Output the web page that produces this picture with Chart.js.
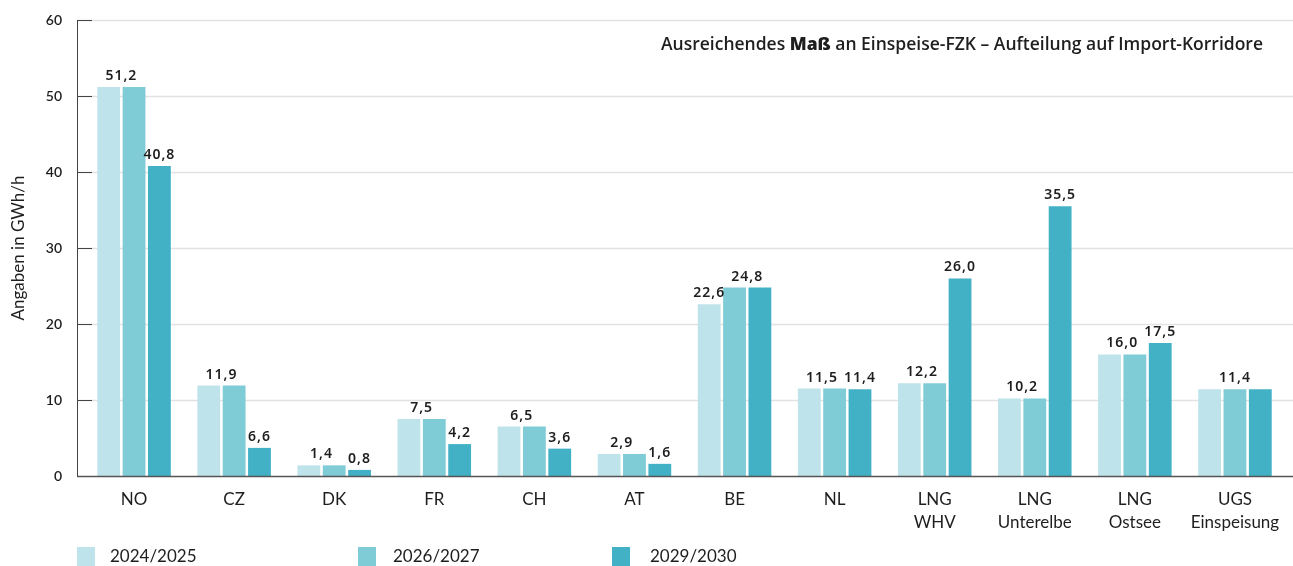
<!DOCTYPE html>
<html>
<head>
<meta charset="utf-8">
<script src="https://cdn.jsdelivr.net/npm/chart.js@4"></script>
<style>
html, body { margin: 0; padding: 0; background: #fff; }
#wrap { width: 1293px; height: 566px; }
</style>
</head>
<body>
<div id="wrap"><canvas id="chart"></canvas></div>
<script>
var categories = ["NO", "CZ", "DK", "FR", "CH", "AT", "BE", "NL", ["LNG", "WHV"], ["LNG", "Unterelbe"], ["LNG", "Ostsee"], ["UGS", "Einspeisung"]];
var seriesNames = ["2024/2025", "2026/2027", "2029/2030"];
var values2024 = [51.2, 11.9, 1.4, 7.5, 6.5, 2.9, 22.6, 11.5, 12.2, 10.2, 16.0, 11.4];
var values2026 = [51.2, 11.9, 1.4, 7.5, 6.5, 2.9, 24.8, 11.5, 12.2, 10.2, 16.0, 11.4];
var values2029 = [40.8, 3.7, 0.8, 4.2, 3.6, 1.6, 24.8, 11.4, 26.0, 35.5, 17.5, 11.4];
var yTicks = [0, 10, 20, 30, 40, 50, 60];
// value labels per category: [text, first bar, last bar]
var valueLabels = [
	[["51,2", 0, 1], ["40,8", 2, 2]],
	[["11,9", 0, 1], ["6,6", 2, 2]],
	[["1,4", 0, 1], ["0,8", 2, 2]],
	[["7,5", 0, 1], ["4,2", 2, 2]],
	[["6,5", 0, 1], ["3,6", 2, 2]],
	[["2,9", 0, 1], ["1,6", 2, 2]],
	[["22,6", 0, 0], ["24,8", 1, 2]],
	[["11,5", 0, 1], ["11,4", 2, 2]],
	[["12,2", 0, 1], ["26,0", 2, 2]],
	[["10,2", 0, 1], ["35,5", 2, 2]],
	[["16,0", 0, 1], ["17,5", 2, 2]],
	[["11,4", 0, 2]]
];
var titleParts = [["Ausreichendes ", "600"], ["Maß", "800"], [" an Einspeise-FZK – Aufteilung auf Import-Korridore", "600"]];

var colors = ["#BFE3EA", "#7FCBD6", "#42B1C6"];
var textColor = "#1e1e1e";
var fontFamily = "Lato, 'Open Sans', sans-serif";
var titleFont = "'Open Sans', sans-serif";

var decorPlugin = {
	id: "decor",
	beforeDatasetsDraw: function (chart) {
		var ctx = chart.ctx;
		var area = chart.chartArea;
		var y = chart.scales.y;
		var axisX = area.left - 7;
		ctx.save();
		yTicks.forEach(function (t) {
			var py = Math.round(y.getPixelForValue(t)) + 0.5;
			if (t > 0) {
				ctx.strokeStyle = "#e2e2e2";
				ctx.lineWidth = 1.5;
				ctx.beginPath();
				ctx.moveTo(axisX, py);
				ctx.lineTo(chart.width, py);
				ctx.stroke();
			}
			ctx.strokeStyle = "#444";
			ctx.lineWidth = 1;
			ctx.beginPath();
			ctx.moveTo(axisX, py);
			ctx.lineTo(axisX + 15, py);
			ctx.stroke();
		});
		ctx.strokeStyle = "#444";
		ctx.lineWidth = 1;
		ctx.beginPath();
		ctx.moveTo(axisX + 0.5, y.getPixelForValue(60));
		ctx.lineTo(axisX + 0.5, y.getPixelForValue(0));
		ctx.stroke();
		ctx.restore();
	},
	afterDatasetsDraw: function (chart) {
		var ctx = chart.ctx;
		var area = chart.chartArea;
		var y = chart.scales.y;
		var axisX = area.left - 7;
		ctx.save();

		// baseline
		ctx.strokeStyle = "#555";
		ctx.lineWidth = 1.5;
		ctx.beginPath();
		ctx.moveTo(axisX, y.getPixelForValue(0) + 0.5);
		ctx.lineTo(chart.width, y.getPixelForValue(0) + 0.5);
		ctx.stroke();

		// value labels
		ctx.fillStyle = textColor;
		ctx.font = "600 14px 'Noto Sans', sans-serif";
		ctx.letterSpacing = "1px";
		ctx.textAlign = "center";
		ctx.textBaseline = "bottom";
		valueLabels.forEach(function (list, i) {
			list.forEach(function (lab) {
				var x0 = chart.getDatasetMeta(lab[1]).data[i].x;
				var x1 = chart.getDatasetMeta(lab[2]).data[i].x;
				var top = Infinity;
				for (var k = lab[1]; k <= lab[2]; k++) {
					top = Math.min(top, chart.getDatasetMeta(k).data[i].y);
				}
				ctx.fillText(lab[0], (x0 + x1) / 2, top - 4);
			});
		});
		ctx.letterSpacing = "0px";

		// title
		ctx.textAlign = "left";
		ctx.textBaseline = "middle";
		var widths = titleParts.map(function (p) {
			ctx.font = p[1] + " 17.5px " + titleFont;
			return ctx.measureText(p[0]).width;
		});
		var total = widths.reduce(function (a, b) { return a + b; }, 0);
		var tx = 1263 - total;
		titleParts.forEach(function (p, k) {
			ctx.font = p[1] + " 17.5px " + titleFont;
			ctx.fillText(p[0], tx, 45);
			tx += widths[k];
		});

		// legend
		var boxX = [77, 358, 612];
		var textX = [110, 393, 650];
		ctx.font = "17px " + fontFamily;
		seriesNames.forEach(function (name, k) {
			ctx.fillStyle = colors[k];
			ctx.fillRect(boxX[k], 547, 18, 20);
			ctx.fillStyle = textColor;
			ctx.fillText(name, textX[k], 557);
		});
		ctx.restore();
	}
};

var ctx = document.getElementById("chart").getContext("2d");
var chart = new Chart(ctx, {
	type: "bar",
	data: {
		labels: categories,
		datasets: [
			{ label: seriesNames[0], data: values2024, backgroundColor: colors[0] },
			{ label: seriesNames[1], data: values2026, backgroundColor: colors[1] },
			{ label: seriesNames[2], data: values2029, backgroundColor: colors[2] }
		]
	},
	options: {
		responsive: true,
		maintainAspectRatio: false,
		animation: false,
		layout: { padding: { top: 20, right: 8, left: 0, bottom: 0 } },
		datasets: {
			bar: { categoryPercentage: 0.76, barPercentage: 0.9, borderWidth: 0 }
		},
		plugins: {
			legend: { display: false },
			tooltip: { enabled: false }
		},
		scales: {
			x: {
				grid: { display: false, drawTicks: false },
				border: { display: false },
				ticks: {
					color: textColor,
					padding: 12,
					maxRotation: 0,
					autoSkip: false,
					font: { family: fontFamily, size: 17, lineHeight: 1.35 }
				},
				afterFit: function (scale) {
					scale.height = 90;
					scale.paddingTop = 0;
					scale.paddingBottom = 0;
				}
			},
			y: {
				min: 0,
				max: 60,
				grid: { display: false, drawTicks: false },
				border: { display: false },
				afterBuildTicks: function (scale) {
					scale.ticks = yTicks.map(function (v) { return { value: v }; });
				},
				ticks: {
					color: textColor,
					padding: 22,
					font: { family: fontFamily, size: 14, weight: "600" }
				},
				title: {
					display: true,
					text: "Angaben in GWh/h",
					color: textColor,
					padding: { top: 8, bottom: 0 },
					font: { family: fontFamily, size: 17 }
				},
				afterFit: function (scale) {
					scale.width = 84;
					scale.paddingTop = 0;
					scale.paddingBottom = 0;
				}
			}
		}
	},
	plugins: [decorPlugin]
});
</script>
</body>
</html>
